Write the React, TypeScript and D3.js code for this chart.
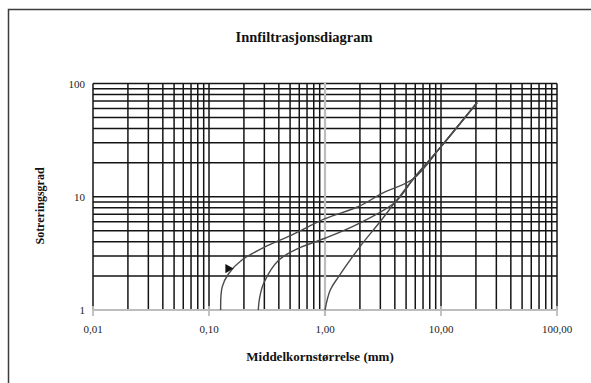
import React, { useEffect, useRef } from 'react';
import * as d3 from 'd3';

// grain size (mm) and sorting degree
const curveNames = ['fin', 'middels', 'grov'];
const fineX = [0.126, 0.13, 0.148, 0.192, 0.306, 0.52, 1.0, 1.95, 3.1, 5.81, 10, 20.5];
const fineY = [1, 1.6, 2.1, 2.76, 3.62, 4.6, 6.4, 8.2, 10.7, 14.5, 27.7, 68];
const midX = [0.266, 0.272, 0.296, 0.4, 0.59, 1.0, 1.95, 4.04, 5.81, 10, 20.5];
const midY = [1, 1.25, 1.72, 2.76, 3.5, 4.3, 5.8, 9.0, 14.5, 27.7, 68];
const coarseX = [1.0, 1.11, 1.31, 2.02, 2.9, 4.04, 5.81, 10, 20.5];
const coarseY = [1, 1.5, 1.97, 3.67, 5.8, 9.0, 14.5, 27.7, 68];
const markerPoint = [0.146, 2.32];

const xTicks = [0.01, 0.1, 1, 10, 100];
const xTickLabels = ['0,01', '0,10', '1,00', '10,00', '100,00'];
const yTicks = [1, 10, 100];
const yTickLabels = ['1', '10', '100'];

const App = () => {
    const svgRef = useRef<SVGSVGElement | null>(null);

    useEffect(() => {
        const width = 591;
        const height = 383;
        const svg = d3.select(svgRef.current);
        svg.selectAll('*').remove();
        svg.attr('width', width).attr('height', height);

        const font = '"Liberation Serif", "Times New Roman", serif';

        // outer frame (runs off the picture on the right and bottom)
        svg.append('rect')
            .attr('x', 8.5).attr('y', 9.5)
            .attr('width', 640).attr('height', 420)
            .attr('fill', '#fff')
            .attr('stroke', '#3c3c3c')
            .attr('stroke-width', 1.5);

        const x = d3.scaleLog().domain([0.01, 100]).range([93, 557]);
        const y = d3.scaleLog().domain([1, 100]).range([310, 83.5]);

        const g = svg.append('g');

        // grid values 1..9 for every decade
        const xGrid: number[] = [];
        for (let e = -2; e < 2; e++) {
            for (let m = 1; m < 10; m++) xGrid.push(m * Math.pow(10, e));
        }
        xGrid.push(100);
        const yGrid: number[] = [];
        for (let e = 0; e < 2; e++) {
            for (let m = 1; m < 10; m++) yGrid.push(m * Math.pow(10, e));
        }
        yGrid.push(100);

        g.selectAll('.hgrid')
            .data(yGrid.filter(v => v !== 1))
            .enter().append('line')
            .attr('class', 'hgrid')
            .attr('x1', x(0.01)).attr('x2', x(100))
            .attr('y1', d => y(d)).attr('y2', d => y(d))
            .attr('stroke', '#141414')
            .attr('stroke-width', 1.5);

        g.selectAll('.vgrid')
            .data(xGrid.filter(v => v !== 1))
            .enter().append('line')
            .attr('class', 'vgrid')
            .attr('x1', d => x(d)).attr('x2', d => x(d))
            .attr('y1', y(100)).attr('y2', y(1))
            .attr('stroke', '#141414')
            .attr('stroke-width', 1.5);

        // gray vertical axis line at 1,00
        g.append('line')
            .attr('x1', x(1)).attr('x2', x(1))
            .attr('y1', y(100) - 1).attr('y2', y(1) + 6)
            .attr('stroke', '#bdbdbd')
            .attr('stroke-width', 2.2);

        // bottom axis
        g.append('line')
            .attr('x1', x(0.01)).attr('x2', x(100))
            .attr('y1', y(1)).attr('y2', y(1))
            .attr('stroke', '#bdbdbd')
            .attr('stroke-width', 1.8);
        g.selectAll('.xtick')
            .data(xTicks)
            .enter().append('line')
            .attr('x1', d => x(d)).attr('x2', d => x(d))
            .attr('y1', y(1) - 4).attr('y2', y(1) + 6)
            .attr('stroke', '#bdbdbd')
            .attr('stroke-width', 1.8);

        g.selectAll('.xlabel')
            .data(xTicks)
            .enter().append('text')
            .attr('x', d => x(d))
            .attr('y', 333)
            .attr('text-anchor', 'middle')
            .attr('font-family', font)
            .attr('font-size', 11)
            .attr('fill', '#222')
            .text((d, i) => xTickLabels[i]);

        g.selectAll('.ylabel')
            .data(yTicks)
            .enter().append('text')
            .attr('x', 85)
            .attr('y', d => y(d) + 4)
            .attr('text-anchor', 'end')
            .attr('font-family', font)
            .attr('font-size', 11)
            .attr('fill', '#222')
            .text((d, i) => yTickLabels[i]);

        // curves
        const series = [
            { name: curveNames[0], xs: fineX, ys: fineY },
            { name: curveNames[1], xs: midX, ys: midY },
            { name: curveNames[2], xs: coarseX, ys: coarseY },
        ];
        const line = d3.line<[number, number]>()
            .x(d => x(d[0]))
            .y(d => y(d[1]))
            .curve(d3.curveCatmullRom.alpha(0.5));

        g.selectAll('.curve')
            .data(series)
            .enter().append('path')
            .attr('class', 'curve')
            .attr('d', s => line(s.xs.map((v, i) => [v, s.ys[i]] as [number, number])))
            .attr('fill', 'none')
            .attr('stroke', '#4a4a4a')
            .attr('stroke-width', 1.4);

        // arrow marker
        g.append('path')
            .attr('d', d3.symbol().type(d3.symbolTriangle).size(38)())
            .attr('transform', `translate(${x(markerPoint[0])},${y(markerPoint[1])}) rotate(90)`)
            .attr('fill', '#111');

        // titles
        svg.append('text')
            .attr('x', 304).attr('y', 42)
            .attr('text-anchor', 'middle')
            .attr('font-family', font)
            .attr('font-weight', 'bold')
            .attr('font-size', 14.5)
            .attr('fill', '#111')
            .text('Innfiltrasjonsdiagram');

        svg.append('text')
            .attr('x', 320).attr('y', 361)
            .attr('text-anchor', 'middle')
            .attr('font-family', font)
            .attr('font-weight', 'bold')
            .attr('font-size', 13)
            .attr('fill', '#111')
            .text('Middelkornstørrelse (mm)');

        svg.append('text')
            .attr('transform', 'translate(44,206) rotate(-90)')
            .attr('text-anchor', 'middle')
            .attr('font-family', font)
            .attr('font-weight', 'bold')
            .attr('font-size', 12)
            .attr('fill', '#111')
            .text('Sotreringsgrad');
    }, []);

    return (
        <svg ref={svgRef} style={{ position: 'absolute', left: 0, top: 0 }}></svg>
    );
};

export default App;
